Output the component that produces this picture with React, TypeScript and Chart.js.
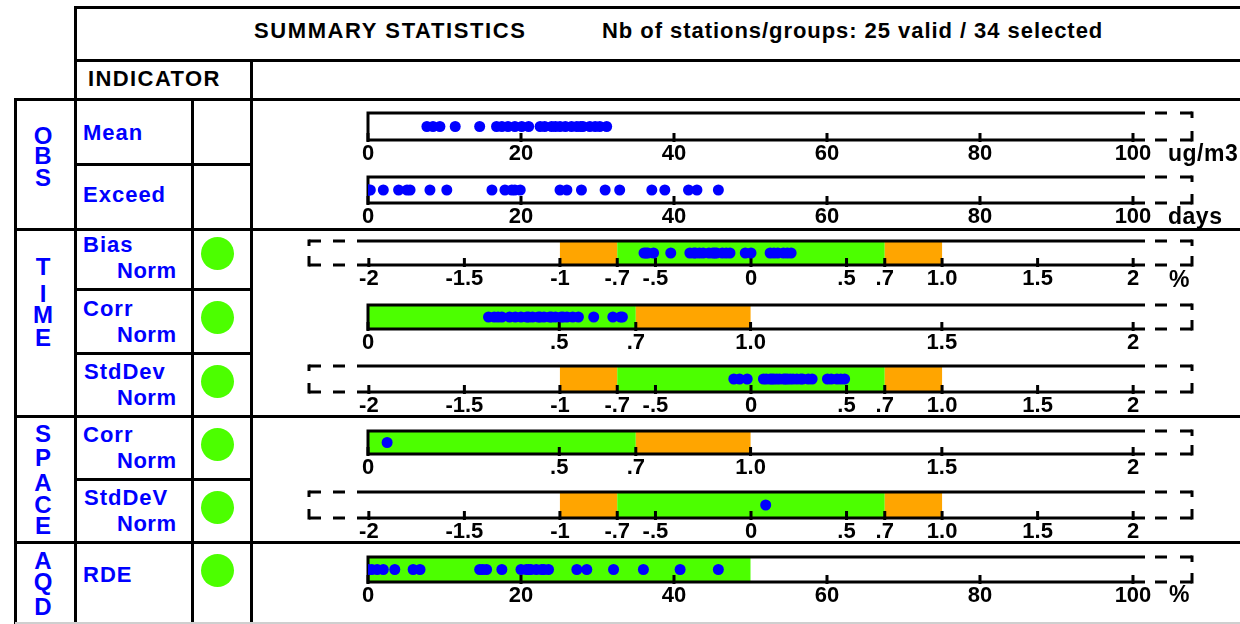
import React, { useEffect, useRef } from 'react';
import { Chart, registerables } from 'chart.js';
Chart.register(...registerables);

// ---------------- DATA ----------------
const headerTitle = 'SUMMARY STATISTICS';
const headerInfo = 'Nb of stations/groups: 25 valid / 34 selected';

const meanValues = [7.7, 8.5, 9.4, 11.4, 14.6, 16.8, 17.5, 18.3, 19.2, 20.1, 21.0, 22.5, 23.1, 24.0, 24.5, 25.1, 25.8, 26.6, 27.3, 27.8, 28.1, 29.0, 29.7, 30.3, 31.2];
const exceedValues = [0, 0, 0, 0.3, 2.0, 4.0, 5.1, 5.5, 8.1, 10.3, 16.2, 17.9, 18.8, 19.2, 19.9, 25.1, 26.0, 27.9, 31.0, 32.9, 37.1, 38.8, 41.9, 43.0, 45.8];
const timeBiasValues = [-0.56, -0.55, -0.54, -0.51, -0.42, -0.32, -0.30, -0.29, -0.27, -0.25, -0.22, -0.20, -0.19, -0.18, -0.15, -0.13, -0.11, -0.03, 0.0, 0.10, 0.12, 0.14, 0.17, 0.19, 0.21];
const timeCorrValues = [0.315, 0.33, 0.34, 0.35, 0.37, 0.385, 0.40, 0.415, 0.42, 0.43, 0.445, 0.45, 0.46, 0.475, 0.48, 0.49, 0.505, 0.51, 0.52, 0.535, 0.55, 0.59, 0.64, 0.66, 0.665];
const timeStdValues = [-0.09, -0.06, -0.02, 0.065, 0.08, 0.10, 0.11, 0.12, 0.135, 0.15, 0.17, 0.18, 0.19, 0.205, 0.22, 0.24, 0.26, 0.27, 0.30, 0.32, 0.40, 0.42, 0.45, 0.47, 0.49];
const spaceCorrValues = [0.05];
const spaceStdValues = [0.077];
const rdeValues = [0.0, 0.5, 1.2, 2.0, 3.5, 5.9, 6.8, 14.6, 15.0, 15.5, 17.5, 20.0, 20.7, 21.0, 21.3, 22.0, 22.7, 23.0, 23.6, 27.3, 28.6, 32.1, 36.0, 40.8, 45.8];

const ticks100 = [0, 20, 40, 60, 80, 100];
const labels100 = ['0', '20', '40', '60', '80', '100'];
const ticksSym = [-2, -1.5, -1, -0.7, -0.5, 0, 0.5, 0.7, 1, 1.5, 2];
const labelsSym = ['-2', '-1.5', '-1', '-.7', '-.5', '0', '.5', '.7', '1.0', '1.5', '2'];
const ticksCorr = [0, 0.5, 0.7, 1, 1.5, 2];
const labelsCorr = ['0', '.5', '.7', '1.0', '1.5', '2'];

const symThresholds = [-1, -0.7, 0.7, 1.0];
const corrThresholds = [0, 0.7, 1.0];
const rdeThresholds = [0, 50];

const groupNames = ['OBS', 'TIME', 'SPACE', 'AQD'];
const indicatorNames = ['Mean', 'Exceed', 'Bias', 'Corr', 'StdDev', 'Corr', 'StdDeV', 'RDE'];
const indicatorSub = ['', '', 'Norm', 'Norm', 'Norm', 'Norm', 'Norm', ''];
const indicatorStatus = ['', '', 'green', 'green', 'green', 'green', 'green', 'green'];
const unitLabels = ['ug/m3', 'days', '%', '', '', '', '', '%'];

// ---------------- STYLE ----------------
const GREEN = '#4cff00';
const ORANGE = '#ffa500';
const BLUE = '#0000ff';
const FONT = 'Arial, "Liberation Sans", sans-serif';

const symBands = [
  { from: symThresholds[0], to: symThresholds[1], color: ORANGE },
  { from: symThresholds[1], to: symThresholds[2], color: GREEN },
  { from: symThresholds[2], to: symThresholds[3], color: ORANGE },
];
const corrBands = [
  { from: corrThresholds[0], to: corrThresholds[1], color: GREEN },
  { from: corrThresholds[1], to: corrThresholds[2], color: ORANGE },
];
const rdeBands = [{ from: rdeThresholds[0], to: rdeThresholds[1], color: GREEN }];

const kinds: any = {
  pct: { min: 0, max: 101.57, ticks: ticks100, labels: labels100, left: 368, sym: false },
  sym: { min: -2.062, max: 2.062, ticks: ticksSym, labels: labelsSym, left: 357, sym: true },
  corr: { min: 0, max: 2.031, ticks: ticksCorr, labels: labelsCorr, left: 368, sym: false },
};

const rows = [
  { top: 113, axis: 140, kind: 'pct', values: meanValues, bands: [] as any[] },
  { top: 177, axis: 203, kind: 'pct', values: exceedValues, bands: [] as any[] },
  { top: 241, axis: 265, kind: 'sym', values: timeBiasValues, bands: symBands },
  { top: 305, axis: 329, kind: 'corr', values: timeCorrValues, bands: corrBands },
  { top: 366, axis: 392, kind: 'sym', values: timeStdValues, bands: symBands },
  { top: 431, axis: 454, kind: 'corr', values: spaceCorrValues, bands: corrBands },
  { top: 492, axis: 518, kind: 'sym', values: spaceStdValues, bands: symBands },
  { top: 557, axis: 582, kind: 'pct', values: rdeValues, bands: rdeBands },
];

const CANVAS_LEFT = 252;
const CANVAS_W = 1240 - CANVAS_LEFT;
const RIGHT_END = 1145;
const PAD_TOP = 12;
const AXIS_H = 32;

const decoPlugin = {
  id: 'rowDeco',
  beforeDatasetsDraw(chart: any) {
    const cfg = chart.options.plugins.rowDeco;
    const { ctx, chartArea: a } = chart;
    const x = chart.scales.x;
    ctx.save();
    for (const b of cfg.bands) {
      const x1 = x.getPixelForValue(b.from);
      const x2 = x.getPixelForValue(b.to);
      ctx.fillStyle = b.color;
      ctx.fillRect(x1, a.top, x2 - x1, a.bottom - a.top);
    }
    ctx.strokeStyle = '#000';
    ctx.lineWidth = 3;
    ctx.lineCap = 'butt';
    ctx.beginPath();
    ctx.moveTo(a.left, a.top);
    ctx.lineTo(a.right, a.top);
    ctx.moveTo(a.left, a.bottom);
    ctx.lineTo(a.right, a.bottom);
    if (!cfg.sym) {
      ctx.moveTo(a.left, a.top - 1.5);
      ctx.lineTo(a.left, a.bottom + 1.5);
    }
    ctx.stroke();
    ctx.beginPath();
    for (const t of x.ticks) {
      const px = x.getPixelForValue(t.value);
      ctx.moveTo(px, a.bottom - 7);
      ctx.lineTo(px, a.bottom + 2);
    }
    ctx.stroke();
    // right dashed bracket
    const rx = a.right + 47;
    ctx.setLineDash([12, 13]);
    ctx.beginPath(); ctx.moveTo(rx, a.top); ctx.lineTo(a.right, a.top); ctx.stroke();
    ctx.beginPath(); ctx.moveTo(rx, a.bottom); ctx.lineTo(a.right, a.bottom); ctx.stroke();
    ctx.setLineDash([]);
    ctx.beginPath();
    ctx.moveTo(rx, a.top - 1.5); ctx.lineTo(rx, a.top + 5);
    ctx.moveTo(rx, a.bottom - 9); ctx.lineTo(rx, a.bottom + 1.5);
    ctx.stroke();
    if (cfg.sym) {
      const lx = a.left - 48;
      ctx.setLineDash([12, 12]);
      ctx.beginPath(); ctx.moveTo(lx, a.top); ctx.lineTo(a.left, a.top); ctx.stroke();
      ctx.beginPath(); ctx.moveTo(lx, a.bottom); ctx.lineTo(a.left, a.bottom); ctx.stroke();
      ctx.setLineDash([]);
      ctx.beginPath();
      ctx.moveTo(lx, a.top - 1.5); ctx.lineTo(lx, a.top + 5);
      ctx.moveTo(lx, a.bottom - 9); ctx.lineTo(lx, a.bottom + 1.5);
      ctx.stroke();
    }
    ctx.restore();
  },
};

function RowChart({ row }: { row: any }) {
  const ref = useRef<HTMLCanvasElement>(null);
  const k = kinds[row.kind];
  const height = row.axis - row.top + PAD_TOP + AXIS_H;
  useEffect(() => {
    if (!ref.current) return;
    const chart = new Chart(ref.current, {
      type: 'scatter',
      data: {
        datasets: [
          {
            data: row.values.map((v: number) => ({ x: v, y: 0.5 })),
            backgroundColor: BLUE,
            borderWidth: 0,
            pointRadius: 5.5,
            pointHoverRadius: 5.5,
          },
        ],
      },
      options: {
        animation: false,
        responsive: false,
        maintainAspectRatio: false,
        events: [],
        layout: { padding: { left: k.left - CANVAS_LEFT, right: 1240 - RIGHT_END, top: PAD_TOP, bottom: 0 } },
        plugins: {
          legend: { display: false },
          tooltip: { enabled: false },
          rowDeco: { bands: row.bands, sym: k.sym },
        } as any,
        scales: {
          x: {
            type: 'linear',
            min: k.min,
            max: k.max,
            afterBuildTicks: (scale: any) => {
              scale.ticks = k.ticks.map((v: number) => ({ value: v }));
            },
            afterFit: (scale: any) => {
              scale.height = AXIS_H;
            },
            grid: { display: false, drawTicks: false },
            border: { display: false },
            ticks: {
              autoSkip: false,
              maxRotation: 0,
              minRotation: 0,
              padding: 1,
              color: '#000',
              font: { family: FONT, size: 22, weight: 'bold' },
              callback: (_v: any, i: number) => k.labels[i],
            },
          },
          y: { display: false, min: 0, max: 1 },
        },
      },
      plugins: [decoPlugin],
    });
    return () => chart.destroy();
  }, []);
  return (
    <canvas
      ref={ref}
      width={CANVAS_W}
      height={height}
      style={{ position: 'absolute', left: CANVAS_LEFT, top: row.top - PAD_TOP, width: CANVAS_W, height }}
    />
  );
}

const H = (y: number, x1: number, x2: number, key: string) => (
  <div key={key} style={{ position: 'absolute', left: x1 - 1.5, top: y - 1.5, width: x2 - x1 + 3, height: 3, background: '#000' }} />
);
const V = (x: number, y1: number, y2: number, key: string) => (
  <div key={key} style={{ position: 'absolute', left: x - 1.5, top: y1 - 1.5, width: 3, height: y2 - y1 + 3, background: '#000' }} />
);

const textStyle = (left: number, cy: number, size: number, color: string, extra: any = {}) => ({
  position: 'absolute' as const,
  left,
  top: cy - size * 0.6,
  height: size * 1.2,
  lineHeight: `${size * 1.2}px`,
  fontSize: size,
  fontWeight: 'bold' as const,
  color,
  whiteSpace: 'nowrap' as const,
  fontFamily: FONT,
  ...extra,
});

const groupLetterY: number[][] = [
  [136, 156, 178],
  [267, 294, 315.5, 338],
  [434, 458, 483.5, 505, 526.5],
  [561, 582, 607.5],
];
const labelY = [133, 195, 245, 309, 372, 435, 498, 575];
const circleY = [0, 0, 253, 317, 381, 444, 507, 570];
const unitY = [154, 217, 280, 0, 0, 0, 0, 595];

export default function App() {
  return (
    <div style={{ position: 'absolute', left: 0, top: 0, width: 1240, height: 624, overflow: 'hidden', background: '#fff', fontFamily: FONT }}>
      {H(7, 75, 1245, 'h0')}
      {H(60, 75, 1245, 'h1')}
      {H(99, 15, 1245, 'h2')}
      {H(164, 75, 251, 'h3')}
      {H(229, 15, 1245, 'h4')}
      {H(289, 75, 251, 'h5')}
      {H(353, 75, 251, 'h6')}
      {H(416, 15, 1245, 'h7')}
      {H(479, 75, 251, 'h8')}
      {H(542, 15, 1245, 'h9')}
      {V(15, 99, 630, 'v0')}
      {V(75, 7, 630, 'v1')}
      {V(192, 99, 630, 'v2')}
      {V(251, 60, 630, 'v3')}
      <div style={{ position: 'absolute', left: 15, top: 622, width: 1230, height: 2, background: '#cfcfcf' }} />

      <div style={textStyle(254, 31, 22, '#000', { letterSpacing: 1.6 })}>{headerTitle}</div>
      <div style={textStyle(602, 31, 22, '#000', { letterSpacing: 0.95 })}>{headerInfo}</div>
      <div style={textStyle(88, 79, 22, '#000', { letterSpacing: 1.4 })}>INDICATOR</div>

      {groupNames.map((g, gi) =>
        g.split('').map((ch, ci) => (
          <div key={`g${gi}-${ci}`} style={textStyle(18, groupLetterY[gi][ci], 24, BLUE, { width: 50, textAlign: 'center' })}>{ch}</div>
        ))
      )}

      {indicatorNames.map((n, i) => (
        <div key={`n${i}`} style={textStyle(n.startsWith('Std') ? 84 : 83, labelY[i], 22, BLUE, { letterSpacing: 1 })}>{n}</div>
      ))}
      {indicatorSub.map((n, i) =>
        n ? (
          <div key={`s${i}`} style={textStyle(117, labelY[i] + 26, 22, BLUE, { letterSpacing: 0.5 })}>{n}</div>
        ) : null
      )}
      {indicatorStatus.map((s, i) =>
        s ? (
          <div key={`c${i}`} style={{ position: 'absolute', left: 217 - 16.5, top: circleY[i] - 16.5, width: 33, height: 33, borderRadius: '50%', background: GREEN }} />
        ) : null
      )}

      {rows.map((r, i) => (
        <RowChart key={`r${i}`} row={r} />
      ))}

      {unitLabels.map((u, i) =>
        u ? (
          <div key={`u${i}`} style={textStyle(u === '%' ? 1169 : 1168, unitY[i], 23, '#000', { letterSpacing: 0.5 })}>{u}</div>
        ) : null
      )}
    </div>
  );
}
